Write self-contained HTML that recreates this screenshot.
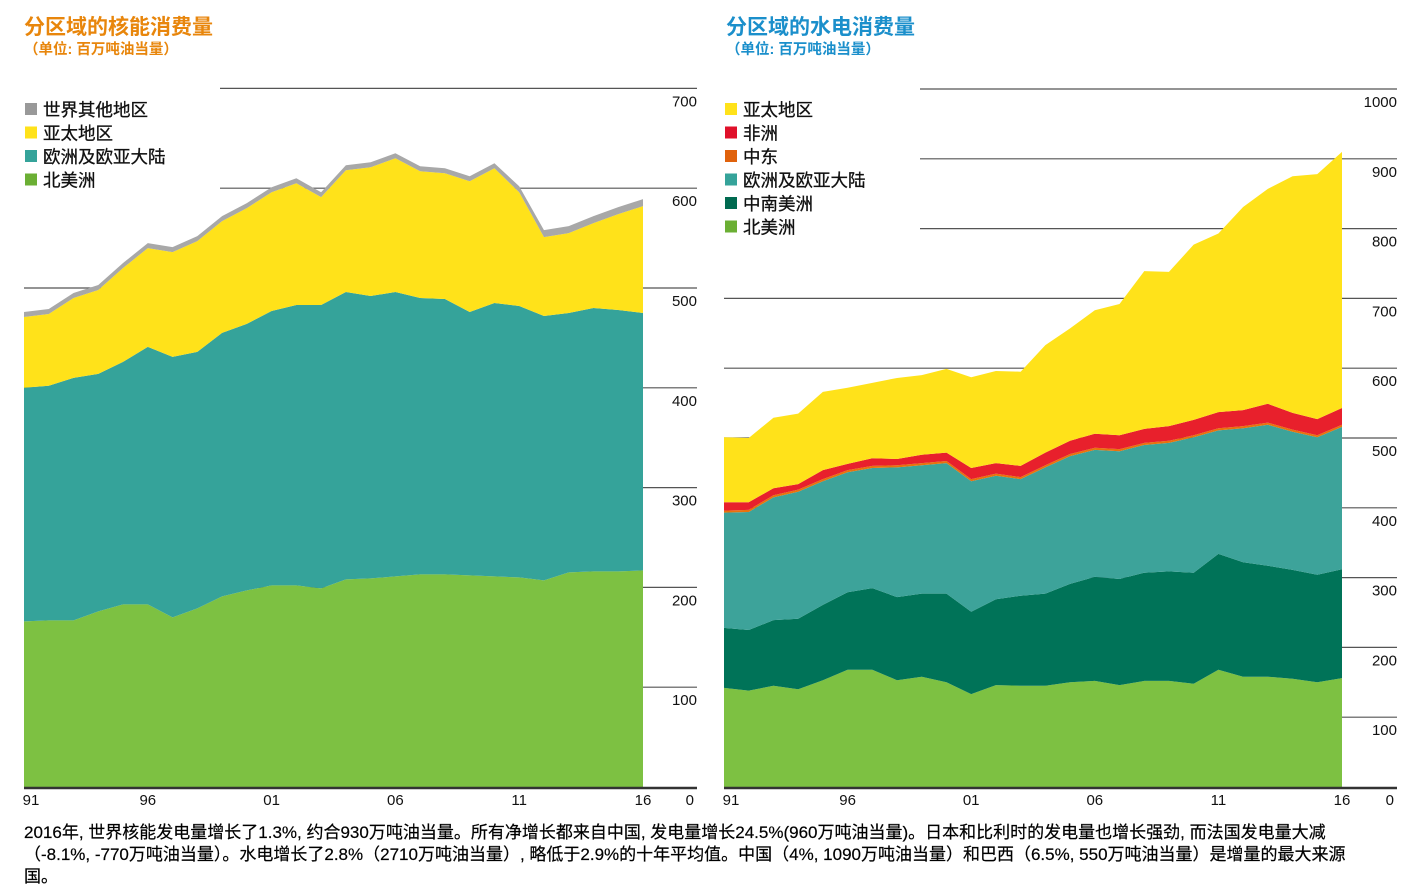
<!DOCTYPE html>
<html><head><meta charset="utf-8">
<style>
body{margin:0;background:#fff;font-family:"Liberation Sans","Noto Sans CJK SC",sans-serif;}
#wrap{position:relative;width:1409px;height:895px;overflow:hidden;}
.t{position:absolute;white-space:nowrap;}
</style></head><body>
<div id="wrap">
<div class="t" style="left:24px;top:11px;font-size:21px;font-weight:bold;color:#E8860C;">分区域的核能消费量</div>
<div class="t" style="left:24px;top:38px;font-size:14.5px;font-weight:bold;color:#E8860C;">（单位: 百万吨油当量）</div>
<div class="t" style="left:726px;top:11px;font-size:21px;font-weight:bold;color:#1B8FCB;">分区域的水电消费量</div>
<div class="t" style="left:726px;top:38px;font-size:14.5px;font-weight:bold;color:#1B8FCB;">（单位: 百万吨油当量）</div>
<svg id="svg" width="1409" height="895" style="position:absolute;left:0;top:0"></svg>
<div class="t" style="left:24px;top:822px;font-size:17px;line-height:22px;color:#000;-webkit-text-stroke:0.2px #000;">2016年, 世界核能发电量增长了1.3%, 约合930万吨油当量。所有净增长都来自中国, 发电量增长24.5%(960万吨油当量)。日本和比利时的发电量也增长强劲, 而法国发电量大减<br>（-8.1%, -770万吨油当量）。水电增长了2.8%（2710万吨油当量）, 略低于2.9%的十年平均值。中国（4%, 1090万吨油当量）和巴西（6.5%, 550万吨油当量）是增量的最大来源<br>国。</div>
</div>
<script>
const years=["91","92","93","94","95","96","97","98","99","00","01","02","03","04","05","06","07","08","09","10","11","12","13","14","15","16"];
const nucNA=[166,167,167,176,183,183,170,179,191,197,202,202,199,208,209,211,213,213,212,211,210,207,215,216,216,217];
const nucEU=[234,235,243,238,243,258,261,257,264,267,275,281,284,288,283,285,277,276,264,274,272,265,260,264,262,258];
const nucAP=[71,72,80,84,94,99,105,111,112,116,119,122,108,122,129,134,127,126,131,135,114,79,80,85,96,107];
const nucOT=[5,5,5,5,5,5,5,5,5,5,5,5,5,5,5,5,5,5,5,5,6,7,7,7,7,7];
const hyNA=[142,138,145,140,153,168,168,153,158,150,133,146,145,145,150,152,146,152,152,148,168,158,158,155,150,156];
const hyCSA=[86,87,94,101,108,111,117,119,119,127,118,123,129,132,141,149,152,155,157,159,166,164,159,156,154,156];
const hyEU=[165,169,176,182,177,172,172,186,184,187,187,177,167,181,183,182,183,183,184,194,177,192,202,198,197,204];
const hyME=[3,3,3,3,3,3,3,3,3,3,3,3,3,3,3,3,3,3,3,3,3,3,3,3,3,3];
const hyAF=[12,11,10,8,13,9,11,9,12,12,16,15,16,18,19,20,20,20,21,22,23,23,27,24,23,24];
const hyAP=[93,92,101,101,112,109,108,116,114,120,130,132,135,154,161,177,188,226,221,251,256,291,308,339,351,367];
const nucTicks=[100,200,300,400,500,600,700];
const hyTicks=[100,200,300,400,500,600,700,800,900,1000];
const xLabels=["91","96","01","06","11","16"];
const NS="http://www.w3.org/2000/svg";
const svg=document.getElementById('svg');
function mk(tag,attrs){const e=document.createElementNS(NS,tag);for(const k in attrs)e.setAttribute(k,attrs[k]);svg.appendChild(e);return e;}
function chart(cfg){
  const x0=cfg.x0,x1=cfg.x1,yb=787,n=years.length;
  const xs=i=>x0+i*(x1-x0)/(n-1);
  const ys=v=>yb-v*cfg.ppu;
  cfg.ticks.forEach(t=>{
    const y=ys(t);
    const l=mk('line',{x1:(y<cfg.legBottom?cfg.legRight:x0),x2:cfg.axisEnd,y1:y,y2:y,stroke:'#555','stroke-width':1.2});
    
    
    const tx=mk('text',{x:cfg.axisEnd,y:y+18,'text-anchor':'end','font-size':15,fill:'#111','font-family':'Liberation Sans, sans-serif'});
    tx.textContent=t;
    
    
  });
  let base=new Array(n).fill(0);
  cfg.series.forEach(s=>{
    const top=base.map((b,i)=>b+s.vals[i]);
    let d='M'+xs(0)+','+ys(top[0]);
    for(let i=1;i<n;i++)d+=' L'+xs(i)+','+ys(top[i]);
    for(let i=n-1;i>=0;i--)d+=' L'+xs(i)+','+ys(base[i]);
    d+='Z';
    const p=mk('path',{d:d,fill:s.color});
    
    
    base=top;
  });
  const ax=mk('line',{x1:x0,x2:cfg.axisEnd,y1:yb+1,y2:yb+1,stroke:'#333','stroke-width':2.5});
  
  
  xLabels.forEach(lb=>{
    const i=years.indexOf(lb);
    const t=mk('text',{x:xs(i)+(lb==="91"?7:0),y:805,'text-anchor':'middle','font-size':15,fill:'#111','font-family':'Liberation Sans, sans-serif'});
    t.textContent=lb;
    
    
  });
  const z=mk('text',{x:cfg.axisEnd-3,y:805,'text-anchor':'end','font-size':15,fill:'#111','font-family':'Liberation Sans, sans-serif'});
  z.textContent='0';
  
  
  cfg.legend.forEach((L,k)=>{
    const y=103+k*23.5;
    const r=mk('rect',{x:cfg.x0+1,y:y,width:12,height:12,fill:L.color});
    
    
    const t=mk('text',{x:cfg.x0+19,y:y+13,'font-size':17.5,fill:'#111','stroke':'#111','stroke-width':0.3,'font-family':'Liberation Sans, Noto Sans CJK SC, sans-serif'});
    t.textContent=L.label;
    
    
  });
}
chart({x0:24,x1:643,ppu:0.998,axisEnd:697,ticks:nucTicks,legBottom:250,legRight:220,
  series:[{name:'north-america',vals:nucNA,color:'#7DC142'},{name:'europe-eurasia',vals:nucEU,color:'#35A39A'},{name:'asia-pacific',vals:nucAP,color:'#FFE21A'},{name:'rest-of-world',vals:nucOT,color:'#A8A8A8'}],
  legend:[{label:'世界其他地区',color:'#999'},{label:'亚太地区',color:'#FFE21A'},{label:'欧洲及欧亚大陆',color:'#35A39A'},{label:'北美洲',color:'#6BAF34'}]});
chart({x0:724,x1:1342,ppu:0.698,axisEnd:1397,ticks:hyTicks,legBottom:240,legRight:920,
  series:[{name:'north-america',vals:hyNA,color:'#7DC142'},{name:'central-south-america',vals:hyCSA,color:'#007358'},{name:'europe-eurasia',vals:hyEU,color:'#3DA39A'},{name:'middle-east',vals:hyME,color:'#E8720C'},{name:'africa',vals:hyAF,color:'#E8202C'},{name:'asia-pacific',vals:hyAP,color:'#FFE21A'}],
  legend:[{label:'亚太地区',color:'#FFE21A'},{label:'非洲',color:'#E0102A'},{label:'中东',color:'#E0620C'},{label:'欧洲及欧亚大陆',color:'#35A39A'},{label:'中南美洲',color:'#006A50'},{label:'北美洲',color:'#6BAF34'}]});
</script>
</body></html>
